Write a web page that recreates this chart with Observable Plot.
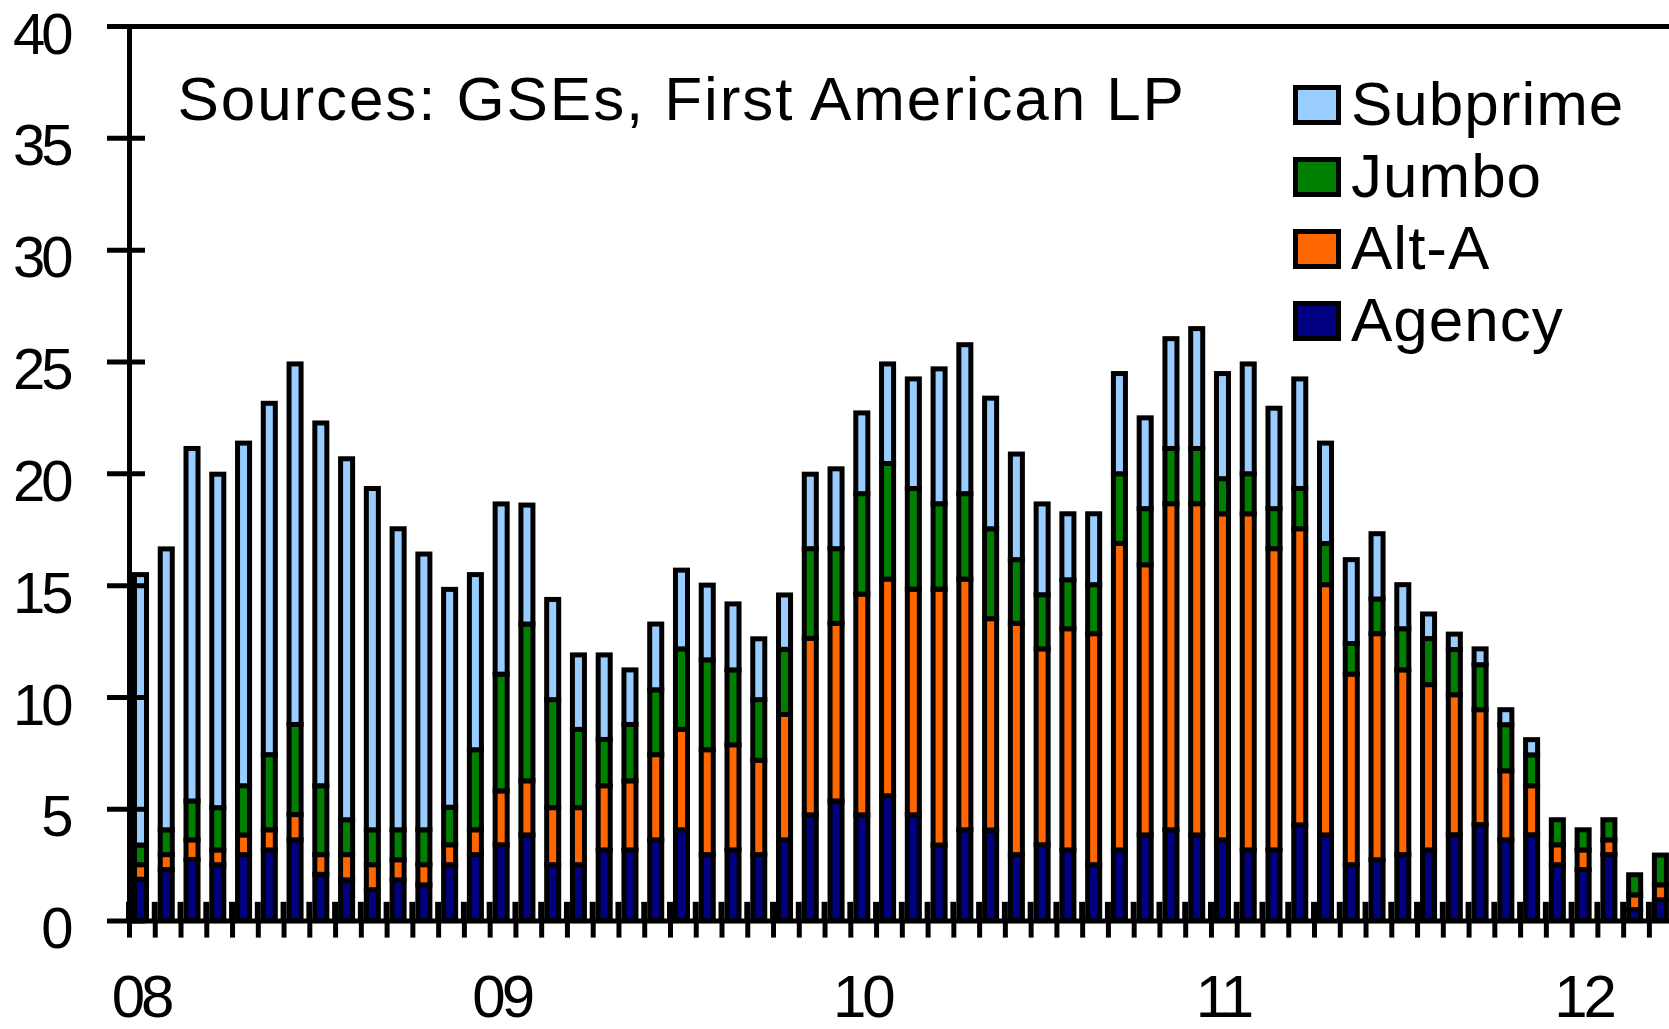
<!DOCTYPE html>
<html>
<head>
<meta charset="utf-8">
<script src="https://cdn.jsdelivr.net/npm/d3@7"></script>
<script src="https://cdn.jsdelivr.net/npm/@observablehq/plot@0.6"></script>
<style>
  body { margin: 0; background: #fff; }
  #chart { position: relative; width: 1669px; height: 1029px; overflow: hidden; font-family: "Liberation Sans", Arial, sans-serif; }
  #chart svg { position: absolute; left: 0; top: 0; }
  .sw { position: absolute; left: 1293px; width: 38px; height: 30px; border: 5px solid #000; }
  .lb { position: absolute; left: 1351px; font-size: 62px; line-height: 62px; letter-spacing: 1px; color: #000; white-space: nowrap; }
</style>
</head>
<body>
<div id="chart"></div>
<script>
// ---- data ----
const seriesNames  = ["Agency", "Alt-A", "Jumbo", "Subprime"];   // stacking order, bottom to top
const seriesColors = ["#000080", "#FF6600", "#008000", "#99CCFF"];
const legendOrder  = ["Subprime", "Jumbo", "Alt-A", "Agency"];

const agency = [1.85,2.28,2.73,2.50,2.95,3.16,3.61,2.07,1.82,1.38,1.82,1.60,2.50,2.95,3.39,3.83,2.50,2.50,3.16,3.16,
                3.61,4.06,2.95,3.16,2.95,3.61,4.73,5.35,4.73,5.58,4.73,3.38,4.06,4.05,2.95,3.39,3.16,2.50,3.16,3.83,
                4.06,3.83,3.61,3.16,3.16,4.28,3.83,2.50,2.72,2.95,3.16,3.84,4.29,3.61,3.84,2.50,2.28,2.95,0.49,0.93];
const altA   = [0.65,0.67,0.88,0.66,0.88,0.90,1.13,0.88,1.13,1.12,0.90,0.90,0.89,1.11,2.41,2.42,2.55,2.55,2.87,3.09,
                3.81,4.49,4.69,4.70,4.22,5.61,7.89,7.94,9.87,9.69,10.09,11.44,11.21,9.45,10.34,8.76,9.89,10.33,13.70,12.08,
                14.58,14.81,14.58,15.03,13.47,13.24,11.19,8.52,10.11,8.26,7.39,6.26,5.14,3.09,2.19,0.89,0.88,0.66,0.66,0.67];
const jumbo  = [0.88,1.11,1.74,1.89,2.20,3.36,4.03,3.08,1.56,1.56,1.34,1.56,1.68,3.58,5.22,7.01,4.83,3.50,2.07,2.52,
                2.90,3.60,4.02,3.35,2.71,2.91,4.01,3.34,4.49,5.17,4.50,3.82,3.82,4.02,2.85,2.42,2.19,2.19,3.12,2.51,
                2.47,2.47,1.57,1.79,1.79,1.80,1.84,1.37,1.55,1.84,2.06,2.02,2.01,2.06,1.38,1.12,0.90,0.90,0.90,1.33];
const subprime = [12.09,12.56,15.76,14.91,15.32,15.71,16.12,16.22,16.14,15.26,13.46,12.33,9.74,7.83,7.61,5.32,4.48,3.33,3.78,2.44,
                2.94,3.52,3.34,2.95,2.72,2.43,3.33,3.57,3.61,4.45,4.90,6.03,6.66,5.84,4.72,4.06,2.95,3.17,4.48,4.06,
                4.91,5.36,4.70,4.91,4.49,4.90,4.49,3.75,2.92,1.97,1.10,0.69,0.71,0.67,0.68,0,0,0,0,0];
// small black marker drawn at every category boundary
const gapMarker = [0.84,0.84,0.84,0.84,0.84,0.84,0.84,0.84,0.84,0.84,0.84,0.84,0.84,0.84,0.84,0.84,0.84,0.84,0.84,0.84,
                   0.84,0.84,0.84,0.84,0.84,0.84,0.84,0.84,0.84,0.84,0.84,0.84,0.84,0.84,0.84,0.84,0.84,0.84,0.84,0.84,
                   0.84,0.84,0.84,0.84,0.84,0.84,0.84,0.84,0.84,0.84,0.84,0.84,0.84,0.84,0.84,0.84,0.84,0.84,0.84,0.84];
const yTicks = [0, 5, 10, 15, 20, 25, 30, 35, 40];
const yearLabels = ["08", "09", "10", "11", "12"];
const yearLabelBars = [0, 14, 28, 42, 56];
const sourceNote = "Sources: GSEs, First American LP";

// ---- build table ----
const seriesValues = [agency, altA, jumbo, subprime];
const bars = agency.map((_, i) => i);
const rows = [];
bars.forEach(i => seriesValues.forEach((arr, s) => rows.push({bar: i, series: seriesNames[s], value: arr[i]})));

const BAR_START = 0.213, BAR_END = 0.68, GAP_HALF = 0.116, BAR_MID = (BAR_START + BAR_END) / 2;
const labelAt = new Map(yearLabelBars.map((b, k) => [b + BAR_MID, yearLabels[k]]));

const chart = Plot.plot({
  width: 1669,
  height: 1029,
  marginTop: 26,
  marginBottom: 108.4,
  marginLeft: 129,
  marginRight: 0,
  x: {type: "linear", domain: [0, 59.78], axis: null},
  y: {domain: [0, 40], axis: null},
  color: {domain: seriesNames, range: seriesColors},
  style: {background: "white", fontFamily: "Liberation Sans, Arial, sans-serif", fontSize: "62px", color: "black", overflow: "hidden"},
  marks: [
    Plot.rectY(rows, {
      x1: d => d.bar + BAR_START,
      x2: d => d.bar + BAR_END,
      y: "value",
      fill: "series",
      stroke: "black",
      strokeWidth: 5
    }),
    Plot.rectY(bars, {x1: i => i - GAP_HALF, x2: i => i + GAP_HALF, y: i => gapMarker[i], fill: "black"}),
    Plot.ruleX([0], {stroke: "black", strokeWidth: 5}),
    Plot.ruleY([0, 40], {stroke: "black", strokeWidth: 5}),
    Plot.ruleY(yTicks, {x1: 0, x2: 0, insetLeft: -22, insetRight: -16, stroke: "black", strokeWidth: 5}),
    Plot.axisX({ticks: bars, tickSize: 17, strokeWidth: 5, stroke: "black", tickFormat: () => "", label: null}),
    Plot.axisX({ticks: [...labelAt.keys()], tickSize: 0, tickPadding: 53.5, tickFormat: d => labelAt.get(d), label: null, fill: "black", fontSize: 60}),
    Plot.axisY({ticks: yTicks, tickSize: 0, tickPadding: 60, label: null, dy: 8.5, fill: "black", fontSize: 58}),
    Plot.text([sourceNote], {frameAnchor: "top-left", dx: 48, dy: 93, lineAnchor: "bottom", textAnchor: "start", fill: "black"})
  ]
});

const root = document.getElementById("chart");
root.appendChild(chart);

// letter spacing tweaks to mimic the narrow bitmap digits and the wide caption
const tickStrings = new Set([...yTicks.map(String), ...yearLabels]);
d3.select(chart).selectAll("text").each(function () {
  const t = this.textContent;
  if (t === sourceNote) this.style.letterSpacing = "1.9px";
  else if (tickStrings.has(t)) this.style.letterSpacing = "-4px";
});

// legend (HTML overlay, top-right of plot area)
legendOrder.forEach((name, i) => {
  const top = 85 + 72 * i;
  const sw = document.createElement("div");
  sw.className = "sw";
  sw.style.top = top + "px";
  sw.style.background = seriesColors[seriesNames.indexOf(name)];
  root.appendChild(sw);
  const lb = document.createElement("div");
  lb.className = "lb";
  lb.style.top = (top - 12.5) + "px";
  lb.textContent = name;
  root.appendChild(lb);
});
</script>
</body>
</html>
